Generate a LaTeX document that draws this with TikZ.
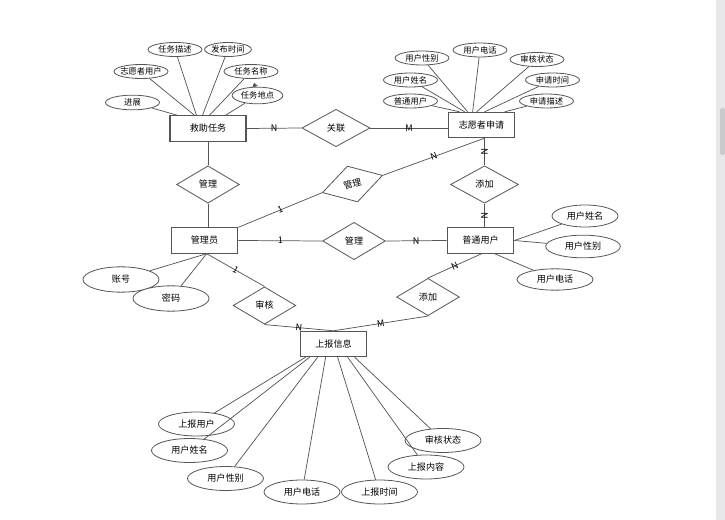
\documentclass[tikz,border=0pt]{standalone}
\usepackage{fontspec}
\setmainfont{Noto Sans CJK SC}
\usetikzlibrary{arrows.meta, shapes.geometric}
\definecolor{linegray}{RGB}{85,85,85}
\definecolor{barbg}{RGB}{232,232,236}
\definecolor{barthumb}{RGB}{202,202,206}
\tikzset{
  entity/.style={
    draw=linegray,
    line width=0.8pt,
    fill=white,
    inner sep=0pt,
    minimum width=50pt,
    minimum height=19pt
  },
  rel/.style={
    diamond,
    draw=linegray,
    line width=0.6pt,
    fill=white,
    inner sep=0pt,
    minimum width=47pt,
    minimum height=28pt
  },
  attr/.style={
    ellipse,
    draw=linegray,
    line width=0.6pt,
    fill=white,
    inner sep=0pt,
    minimum width=57pt,
    minimum height=18pt
  },
  sattr/.style={
    attr,
    font=\fontsize{6.2}{7}\selectfont,
    minimum width=40.5pt,
    minimum height=10.5pt
  },
  link/.style={draw=linegray, line width=0.55pt},
  card/.style={inner sep=0.5pt, sloped, midway}
}

\begin{document}
\begin{tikzpicture}[
    x=0.75pt, y=-0.75pt,
    font=\fontsize{6.8}{8}\selectfont
]
\useasboundingbox (0,0) rectangle (725,520);
% scroll bar
\fill[barbg] (716,0) rectangle (725,520);
\fill[barthumb, rounded corners=1.5pt] (720,108) rectangle (725,155);

% entities
\node[entity, minimum width=57pt] (jz) at (208,128.5) {救助任务};
\node[entity] (zy) at (481.5,125) {志愿者申请};
\node[entity] (gly) at (204.5,240.5) {管理员};
\node[entity] (pt) at (480.5,240.5) {普通用户};
\node[entity] (sb) at (333.5,344) {上报信息};

% relations
\node[rel, minimum width=51pt] (gl) at (336,128) {关联};
\node[rel] (gl1) at (208,184.5) {管理};
\node[rel, rotate=16] (gl2) at (352.5,184) {管理};
\node[rel] (gl3) at (354,241) {管理};
\node[rel, minimum width=51pt] (tj1) at (484.5,184.5) {添加};
\node[rel] (sh) at (264.5,305.5) {审核};
\node[rel] (tj2) at (428,297) {添加};

% attributes of 救助任务
\node[sattr, minimum height=11pt] (jz1) at (132.5,102.5) {进展};
\node[sattr, inner xsep=-2pt] (jz2) at (141,71.5) {志愿者用户};
\node[sattr] (jz3) at (175,49.5) {任务描述};
\node[sattr, minimum width=34.5pt] (jz4) at (228,49.5) {发布时间};
\node[sattr] (jz5) at (251,71.5) {任务名称};
\node[sattr, minimum width=38pt, minimum height=12.5pt] (jz6) at (257.5,95.5) {任务地点};

% attributes of 志愿者申请
\node[sattr] (zy1) at (410.5,101) {普通用户};
\node[sattr] (zy2) at (410.5,80) {用户姓名};
\node[sattr] (zy3) at (422,58) {用户性别};
\node[sattr] (zy4) at (480,50) {用户电话};
\node[sattr] (zy5) at (537,59.5) {审核状态};
\node[sattr] (zy6) at (552.5,80) {申请时间};
\node[sattr] (zy7) at (546.5,101) {申请描述};

% attributes of 普通用户
\node[attr, minimum width=49.5pt, minimum height=16.5pt] (pt1) at (585,216) {用户姓名};
\node[attr, minimum width=56pt, minimum height=17pt] (pt2) at (583,246.5) {用户性别};
\node[attr, minimum height=16pt] (pt3) at (555,279.5) {用户电话};

% attributes of 管理员
\node[attr, minimum height=19pt] (gly1) at (121,279.5) {账号};
\node[attr, minimum height=19pt] (gly2) at (171,298.5) {密码};

% attributes of 上报信息
\node[attr] (sb1) at (196.5,424) {上报用户};
\node[attr] (sb2) at (189.5,450.5) {用户姓名};
\node[attr] (sb3) at (225.5,478.5) {用户性别};
\node[attr] (sb4) at (302,492) {用户电话};
\node[attr] (sb5) at (379.5,492) {上报时间};
\node[attr] (sb6) at (426,467) {上报内容};
\node[attr] (sb7) at (443,440.5) {审核状态};

% attribute links
\draw[link] (jz1) -- ([shift={(8,0)}]jz.north west);
\draw[link] (jz2) -- ([shift={(25,0)}]jz.north west);
\draw[link] (jz3) -- ([shift={(27,0)}]jz.north west);
\draw[link] (jz4) -- ([shift={(33,0)}]jz.north west);
\draw[link] (jz5) -- ([shift={(40,0)}]jz.north west);
\draw[link] (jz6) -- ([shift={(56,0)}]jz.north west);
\draw[link, -{Triangle[length=3pt, width=4pt]}, shorten >=3pt] (jz6) -- (jz5);

\draw[link] (zy1) -- ([shift={(12,0)}]zy.north west);
\draw[link] (zy2) -- ([shift={(17,0)}]zy.north west);
\draw[link] (zy3) -- ([shift={(20,0)}]zy.north west);
\draw[link] (zy4) -- ([shift={(25,0)}]zy.north west);
\draw[link] (zy5) -- ([shift={(29,0)}]zy.north west);
\draw[link] (zy6) -- ([shift={(37,0)}]zy.north west);
\draw[link] (zy7) -- ([shift={(57,0)}]zy.north west);

\draw[link] (pt1) -- (pt.east);
\draw[link] (pt2) -- (pt.east);
\draw[link] (pt3) -- ([shift={(48,0)}]pt.south west);

\draw[link] (gly1) -- ([shift={(36,0)}]gly.south west);
\draw[link] (gly2) -- ([shift={(36,0)}]gly.south west);

\draw[link] (sb1) -- ([shift={(6,0)}]sb.south west);
\draw[link] (sb2) -- ([shift={(10,0)}]sb.south west);
\draw[link] (sb3) -- ([shift={(18,0)}]sb.south west);
\draw[link] (sb4) -- ([shift={(26,0)}]sb.south west);
\draw[link] (sb5) -- ([shift={(38,0)}]sb.south west);
\draw[link] (sb6) -- ([shift={(48,0)}]sb.south west);
\draw[link] (sb7) -- ([shift={(55,0)}]sb.south west);

% relation links
\draw[link] (jz.east) -- (gl.west) node[card] {N};
\draw[link] (gl.east) -- (gl.east -| zy.west) node[card] {M};

\draw[link] (jz.south) -- (gl1.north);
\draw[link] (gl1.south) -- (gl1.south |- gly.north);

\draw[link] (gly.north east) -- (gl2.west) node[card] {1};
\draw[link] (gl2.east) -- (tj1.north |- zy.south) node[card] {N};

\draw[link] (tj1.north |- zy.south) -- (tj1.north) node[card] {N};
\draw[link] (tj1.south) -- (tj1.south |- pt.north) node[card] {N};

\draw[link] (gly.east) -- (gl3.west) node[card] {1};
\draw[link] (gl3.east) -- (pt.west) node[card] {N};

\draw[link] ([shift={(36,0)}]gly.south west) -- (sh.north) node[card] {1};
\draw[link] (sh.south) -- (sb.north) node[card] {N};

\draw[link] ([shift={(35,0)}]pt.south west) -- (tj2.north) node[card] {N};
\draw[link] (tj2.south) -- (sb.north) node[card] {M};
\end{tikzpicture}
\end{document}
